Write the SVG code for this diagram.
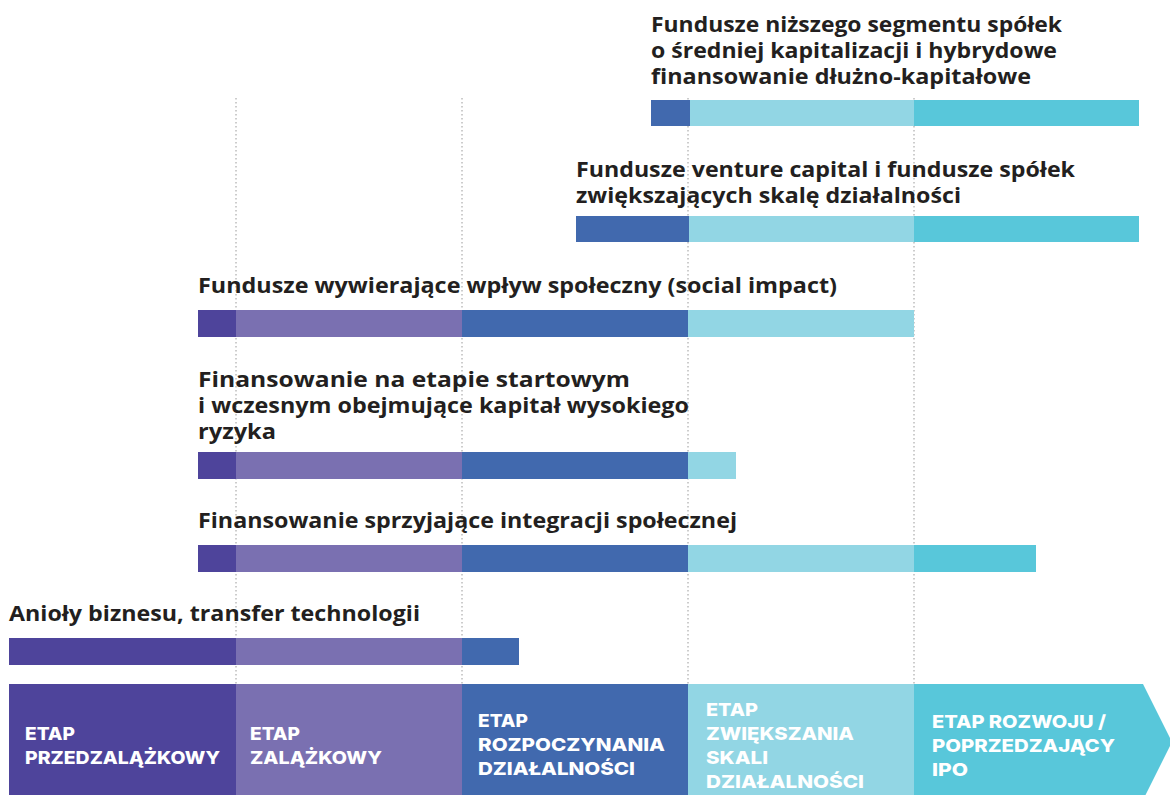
<svg xmlns="http://www.w3.org/2000/svg" width="1170" height="795" viewBox="0 0 1170 795">
<style>
.t{font-family:"Open Sans","Noto Sans",sans-serif;font-weight:700;font-size:21px;fill:#231F20}
.s{font-family:"Inter","Liberation Sans",sans-serif;font-weight:800;font-size:18px;fill:#FFFFFF}
.grid{stroke:#9A9A9A;stroke-width:1;stroke-dasharray:1.5 2.5;fill:none}
.c1{fill:#4E449B}.c2{fill:#7A70B1}.c3{fill:#4169AE}.c4{fill:#92D6E4}.c5{fill:#58C7DA}
</style>
<rect width="1170" height="795" fill="#FFFFFF"/>
<g id="grid">
<line class="grid" x1="236" y1="98" x2="236" y2="684"/>
<line class="grid" x1="462" y1="98" x2="462" y2="684"/>
<line class="grid" x1="688" y1="98" x2="688" y2="684"/>
<line class="grid" x1="914" y1="98" x2="914" y2="684"/>
</g>
<g id="row1">
<text class="t" x="651" y="32" textLength="411" lengthAdjust="spacingAndGlyphs">Fundusze niższego segmentu spółek</text>
<text class="t" x="651" y="58" textLength="406" lengthAdjust="spacingAndGlyphs">o średniej kapitalizacji i hybrydowe</text>
<text class="t" x="651" y="84" textLength="380" lengthAdjust="spacingAndGlyphs">finansowanie dłużno-kapitałowe</text>
<rect class="c3" x="651" y="100" width="39" height="26"/>
<rect class="c4" x="690" y="100" width="224" height="26"/>
<rect class="c5" x="914" y="100" width="225" height="26"/>
</g>
<g id="row2">
<text class="t" x="576" y="177" textLength="499" lengthAdjust="spacingAndGlyphs">Fundusze venture capital i fundusze spółek</text>
<text class="t" x="576" y="203" textLength="385" lengthAdjust="spacingAndGlyphs">zwiększających skalę działalności</text>
<rect class="c3" x="576" y="216" width="113" height="26"/>
<rect class="c4" x="689" y="216" width="225" height="26"/>
<rect class="c5" x="914" y="216" width="225" height="26"/>
</g>
<g id="row3">
<text class="t" x="198" y="293" textLength="639" lengthAdjust="spacingAndGlyphs">Fundusze wywierające wpływ społeczny (social impact)</text>
<rect class="c1" x="198" y="310" width="38" height="27"/>
<rect class="c2" x="236" y="310" width="226" height="27"/>
<rect class="c3" x="462" y="310" width="226" height="27"/>
<rect class="c4" x="688" y="310" width="226" height="27"/>
</g>
<g id="row4">
<text class="t" x="198" y="387" textLength="432" lengthAdjust="spacingAndGlyphs">Finansowanie na etapie startowym</text>
<text class="t" x="198" y="413" textLength="491" lengthAdjust="spacingAndGlyphs">i wczesnym obejmujące kapitał wysokiego</text>
<text class="t" x="198" y="439" textLength="78" lengthAdjust="spacingAndGlyphs">ryzyka</text>
<rect class="c1" x="198" y="452" width="38" height="27"/>
<rect class="c2" x="236" y="452" width="226" height="27"/>
<rect class="c3" x="462" y="452" width="226" height="27"/>
<rect class="c4" x="688" y="452" width="48" height="27"/>
</g>
<g id="row5">
<text class="t" x="198" y="528" textLength="539" lengthAdjust="spacingAndGlyphs">Finansowanie sprzyjające integracji społecznej</text>
<rect class="c1" x="198" y="545" width="38" height="27"/>
<rect class="c2" x="236" y="545" width="226" height="27"/>
<rect class="c3" x="462" y="545" width="226" height="27"/>
<rect class="c4" x="688" y="545" width="226" height="27"/>
<rect class="c5" x="914" y="545" width="122" height="27"/>
</g>
<g id="row6">
<text class="t" x="9" y="621" textLength="411" lengthAdjust="spacingAndGlyphs">Anioły biznesu, transfer technologii</text>
<rect class="c1" x="9" y="638" width="227" height="27"/>
<rect class="c2" x="236" y="638" width="226" height="27"/>
<rect class="c3" x="462" y="638" width="57" height="27"/>
</g>
<g id="stage1">
<rect class="c1" x="9" y="684" width="227" height="111"/>
<text class="s" x="25" y="740" textLength="50" lengthAdjust="spacingAndGlyphs">ETAP</text>
<text class="s" x="25" y="764" textLength="195" lengthAdjust="spacingAndGlyphs">PRZEDZALĄŻKOWY</text>
</g>
<g id="stage2">
<rect class="c2" x="236" y="684" width="226" height="111"/>
<text class="s" x="250" y="740" textLength="50" lengthAdjust="spacingAndGlyphs">ETAP</text>
<text class="s" x="250" y="764" textLength="132" lengthAdjust="spacingAndGlyphs">ZALĄŻKOWY</text>
</g>
<g id="stage3">
<rect class="c3" x="462" y="684" width="226" height="111"/>
<text class="s" x="478" y="727" textLength="50" lengthAdjust="spacingAndGlyphs">ETAP</text>
<text class="s" x="478" y="751" textLength="187" lengthAdjust="spacingAndGlyphs">ROZPOCZYNANIA</text>
<text class="s" x="478" y="775" textLength="157" lengthAdjust="spacingAndGlyphs">DZIAŁALNOŚCI</text>
</g>
<g id="stage4">
<rect class="c4" x="688" y="684" width="226" height="111"/>
<text class="s" x="706" y="716" textLength="52" lengthAdjust="spacingAndGlyphs">ETAP</text>
<text class="s" x="706" y="740" textLength="148" lengthAdjust="spacingAndGlyphs">ZWIĘKSZANIA</text>
<text class="s" x="706" y="764" textLength="62" lengthAdjust="spacingAndGlyphs">SKALI</text>
<text class="s" x="706" y="788" textLength="158" lengthAdjust="spacingAndGlyphs">DZIAŁALNOŚCI</text>
</g>
<g id="stage5">
<polygon class="c5" points="914,684 1143,684 1172,742 1143,800 914,800"/>
<text class="s" x="932" y="728" textLength="174" lengthAdjust="spacingAndGlyphs">ETAP ROZWOJU /</text>
<text class="s" x="932" y="752" textLength="183" lengthAdjust="spacingAndGlyphs">POPRZEDZAJĄCY</text>
<text class="s" x="932" y="776" textLength="36" lengthAdjust="spacingAndGlyphs">IPO</text>
</g>
<g id="connectors"/>
</svg>
